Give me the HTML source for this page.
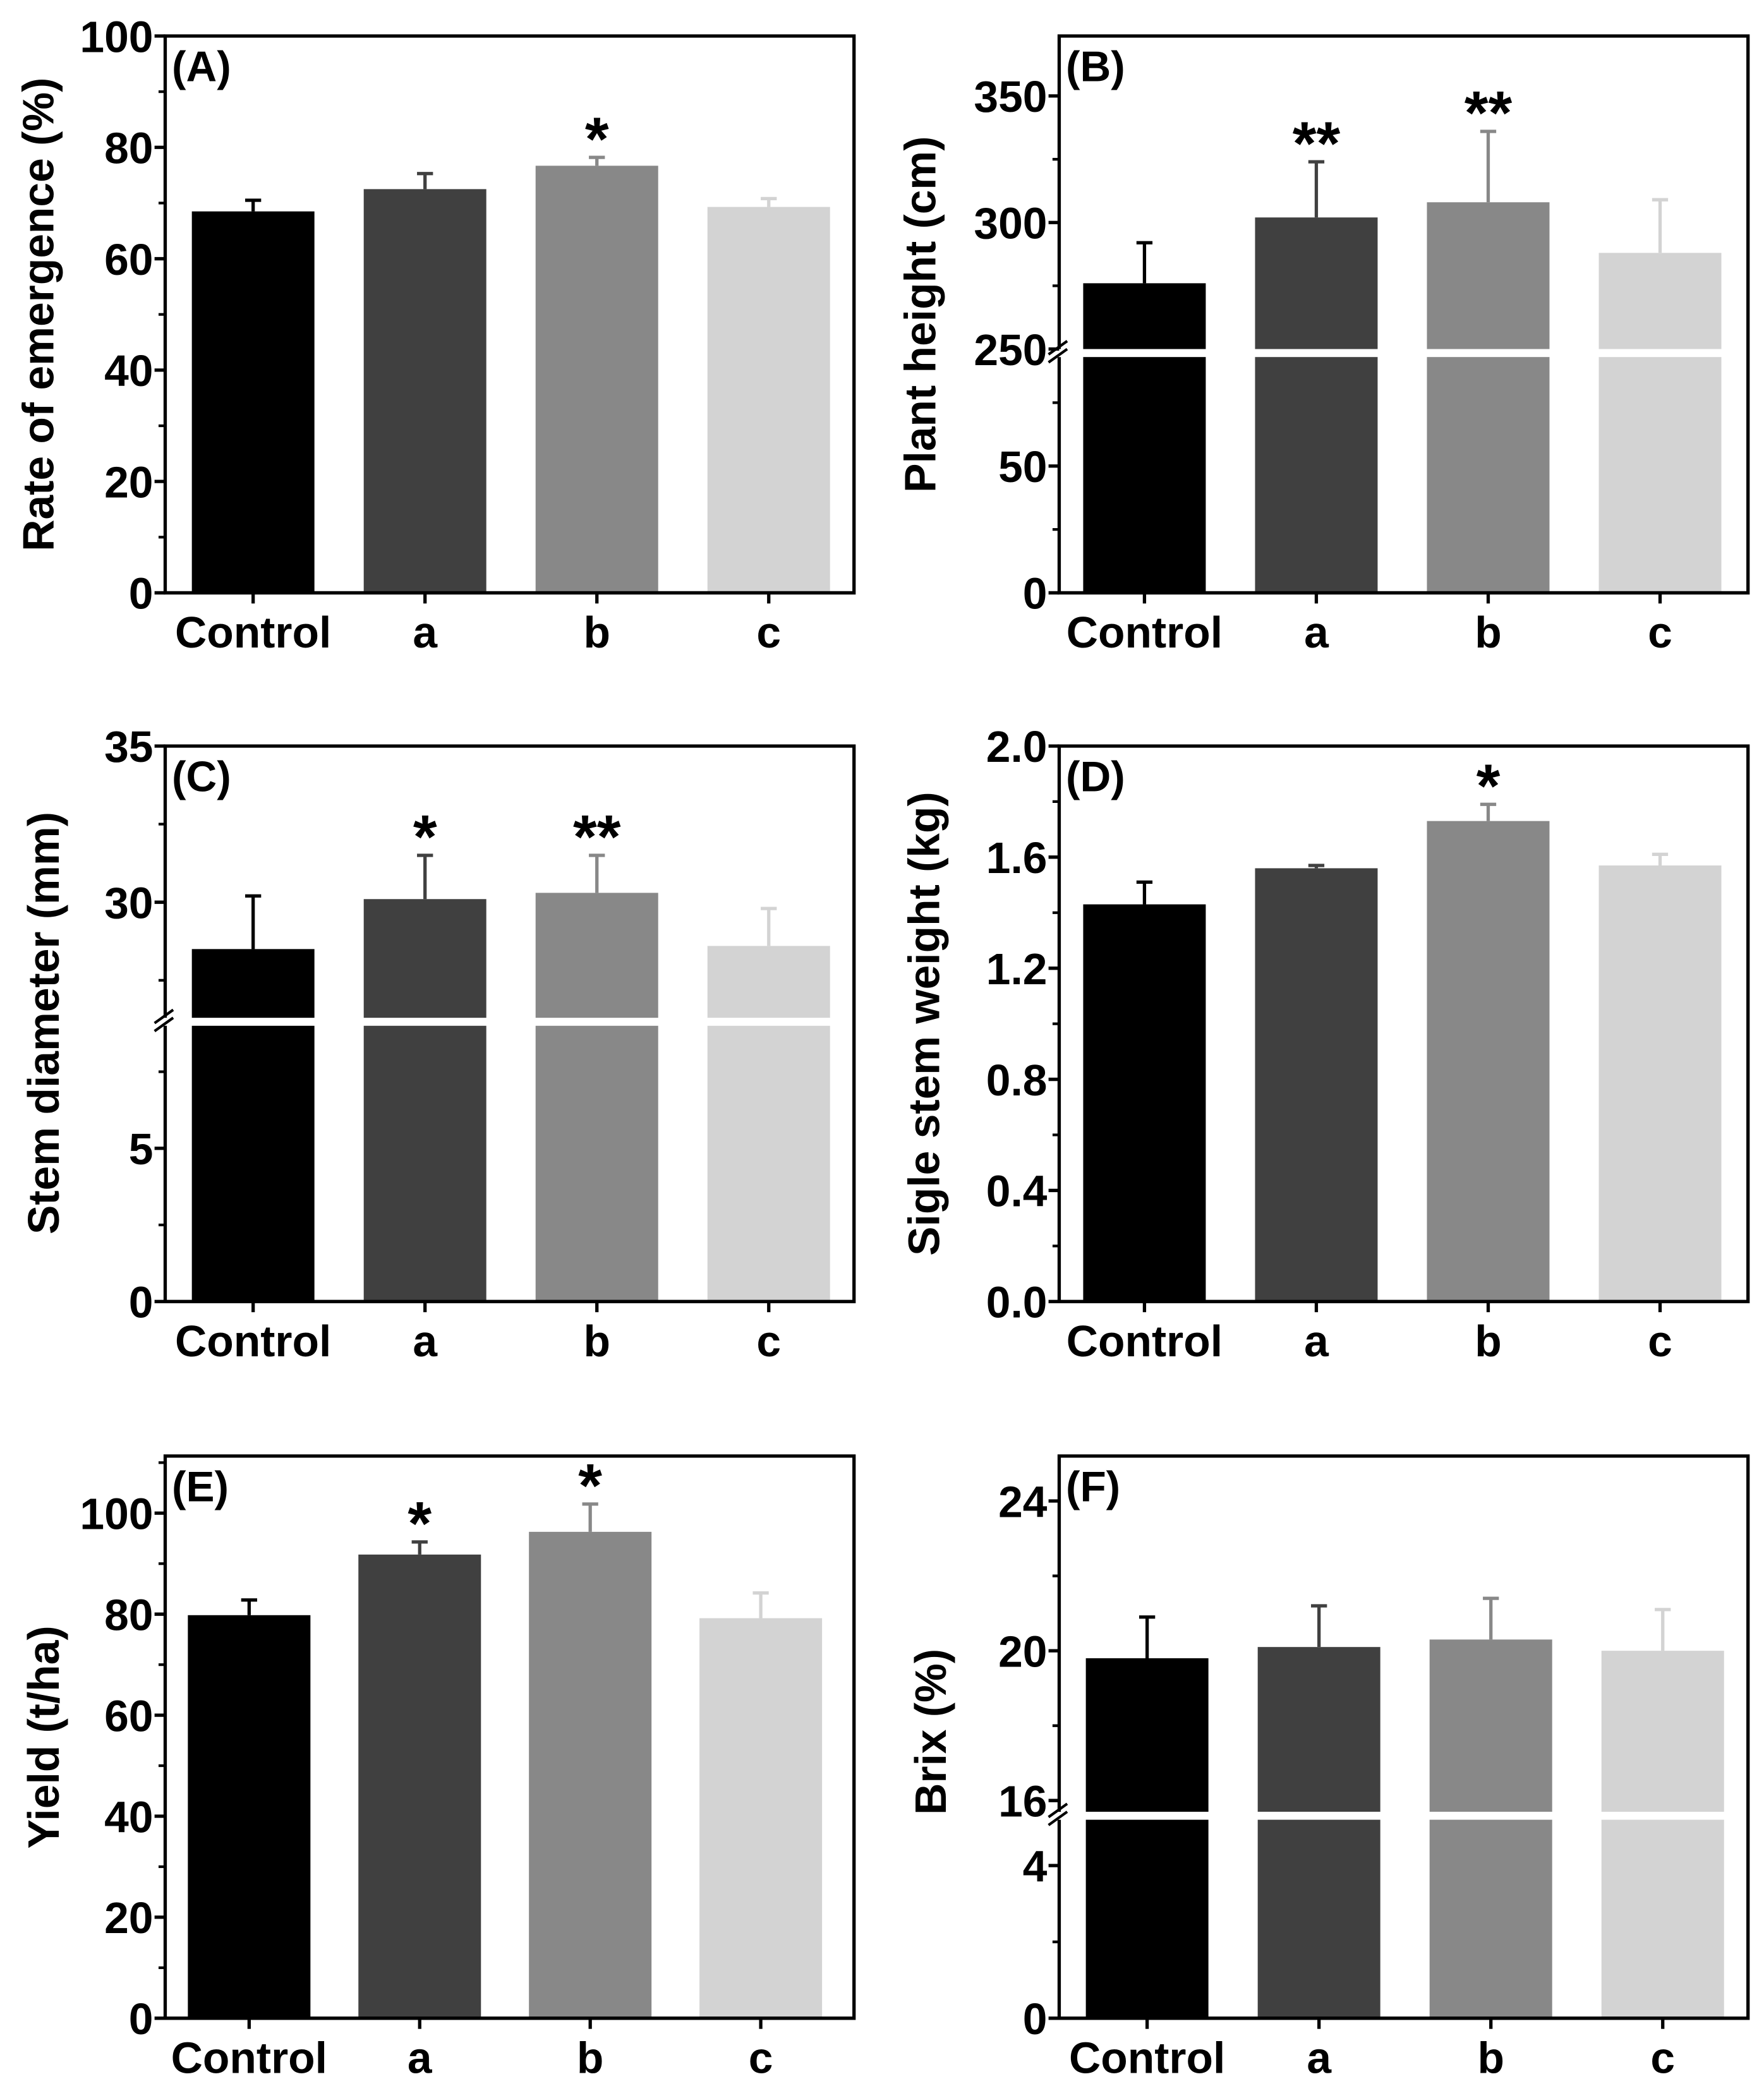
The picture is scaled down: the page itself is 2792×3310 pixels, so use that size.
<!DOCTYPE html>
<html><head><meta charset="utf-8"><style>
html,body{margin:0;padding:0;background:#fff}
svg{display:block}
text{font-family:"Liberation Sans",Arial,sans-serif;font-weight:bold;fill:#000}
.tk{font-size:33px}
.xl{font-size:33px}
.yt{font-size:33px}
.pl{font-size:32px}
.st{font-size:46px}
</style></head><body>
<svg id="fig" width="2792" height="3310" viewBox="0 0 1324 1569.6" xmlns="http://www.w3.org/2000/svg"></svg>
<script>
const categories=["Control","a","b","c"];
const colors=["#000000","#404040","#888888","#d3d3d3"];
const valuesA=[68.5,72.5,76.7,69.3]; const errA=[2.0,2.8,1.5,1.5]; const starsA=["","","*",""];
const ticksA=[0,20,40,60,80,100];
const valuesB=[276,302,308,288]; const errB=[16,22,28,21]; const starsB=["","**","**",""];
const ticksB=[0,50,250,300,350];
const valuesC=[28.5,30.1,30.3,28.6]; const errC=[1.7,1.4,1.2,1.2]; const starsC=["","*","**",""];
const ticksC=[0,5,30,35];
const valuesD=[1.43,1.56,1.73,1.57]; const errD=[0.08,0.01,0.06,0.04]; const starsD=["","","*",""];
const ticksD=[0,0.4,0.8,1.2,1.6,2.0];
const valuesE=[79.8,91.8,96.3,79.2]; const errE=[3,2.5,5.5,5]; const starsE=["","*","*",""];
const ticksE=[0,20,40,60,80,100];
const valuesF=[19.8,20.1,20.3,20.0]; const errF=[1.1,1.1,1.1,1.1]; const starsF=["","","",""];
const ticksF=[0,4,16,20,24];

const NS="http://www.w3.org/2000/svg";
const svg=document.getElementById('fig');
function mk(tag,attrs,parent){const e=document.createElementNS(NS,tag);for(const k in attrs)e.setAttribute(k,attrs[k]);(parent||svg).appendChild(e);return e;}

function panel(o){
  const g=mk('g',{});
  
  
  const L=o.left,R=o.left+517,T=o.top,B=o.bottom;
  const segs=o.segs;
  function y(v){
    for(const s of segs){ if(v>=s[0]&&v<=s[1]) return s[2]+(v-s[0])/(s[1]-s[0])*(s[3]-s[2]); }
    if(segs.length>1 && v>segs[0][1] && v<segs[1][0]) return segs[0][3];
    return v<segs[0][0]?segs[0][2]:segs[segs.length-1][3];
  }
  const bw=92, cx=i=>L+ (o.first) + i*o.step;
  o.values.forEach((v,i)=>{
    const c=cx(i);
    const r=mk('rect',{x:c-bw/2,y:y(v),width:bw,height:B-y(v),fill:colors[i]},g);
    
    
    const ye=y(v+o.err[i]);
    const e=mk('path',{d:`M${c},${y(v)}V${ye}M${c-6},${ye}H${c+6}`,stroke:colors[i],'stroke-width':2.5,fill:'none'},g);
    
    
    if(o.stars[i]){
      const s=mk('text',{x:c,y:ye+2,'text-anchor':'middle',class:'st'},g);s.textContent=o.stars[i];
      
      
    }
    const t=mk('text',{x:c,y:B+41,'text-anchor':'middle',class:'xl'},g);t.textContent=categories[i];
    
    
    mk('line',{x1:c,x2:c,y1:B,y2:B+8,stroke:'#000','stroke-width':2.5},g);
  });
  if(segs.length>1){
    const yb=segs[0][3], yt=segs[1][2];
    mk('rect',{x:L-2,y:yt,width:R-L+4,height:yb-yt,fill:'#fff'},g);
    const br=mk('path',{d:`M${L-8},${yt+4}L${L+6},${yt-6}M${L-8},${yb+4}L${L+6},${yb-6}`,stroke:'#000','stroke-width':2},g);
    
    
  }
  const fr=mk('path',{d:segs.length>1?`M${L},${segs[0][3]}V${B}H${R}V${T}H${L}V${segs[1][2]}`:`M${L},${T}V${B}H${R}V${T}Z`,stroke:'#000','stroke-width':2.5,fill:'none'},g);
  
  
  o.ticks.forEach((tv,k)=>{
    const yy=y(tv);
    mk('line',{x1:L-8,x2:L,y1:yy,y2:yy,stroke:'#000','stroke-width':2.5},g);
    const t=mk('text',{x:L-9,y:yy+12,'text-anchor':'end',class:'tk'},g);
    t.textContent=o.fmt?o.fmt(tv):tv;
    
    
    if(k<o.ticks.length-1){
      const nv=o.ticks[k+1];
      const mv=(tv+nv)/2; const ym=y(mv);
      const sameSeg=segs.some(s=>tv>=s[0]&&nv<=s[1]);
      if(sameSeg) mk('line',{x1:L-5,x2:L,y1:ym,y2:ym,stroke:'#000','stroke-width':2},g);
    }
  });
  (o.extraMinor||[]).forEach(mv=>{const ym=y(mv);mk('line',{x1:L-5,x2:L,y1:ym,y2:ym,stroke:'#000','stroke-width':2},g);});
  const pl=mk('text',{x:L+5,y:T+34,class:'pl'},g);pl.textContent='('+o.id+')';
  
  
  const cy=o.titleY||(T+B)/2;
  const yt=mk('text',{x:0,y:0,'text-anchor':'middle',class:'yt',transform:`translate(${o.titleX},${cy}) rotate(-90)`},g);
  yt.textContent=o.title;
  
  
}

panel({id:'A',left:124,top:27,bottom:445,first:66,step:129,values:valuesA,err:errA,stars:starsA,ticks:ticksA,
  segs:[[0,100,445,27]],title:'Rate of emergence (%)',titleX:40});
panel({id:'B',left:795,top:27,bottom:445,first:64,step:129,values:valuesB,err:errB,stars:starsB,ticks:ticksB,
  segs:[[0,93,445,268],[250,373.7,262,27]],extraMinor:[75,325],title:'Plant height (cm)',titleX:702});
panel({id:'C',left:124,top:560,bottom:977,first:66,step:129,values:valuesC,err:errC,stars:starsC,ticks:ticksC,
  segs:[[0,9,977,770],[26.3,35,764,560]],extraMinor:[7.5,27.5],title:'Stem diameter (mm)',titleX:44,titleY:768});
panel({id:'D',left:795,top:560,bottom:977,first:64,step:129,values:valuesD,err:errD,stars:starsD,ticks:ticksD,
  segs:[[0,2,977,560]],fmt:v=>v.toFixed(1),title:'Sigle stem weight  (kg)',titleX:705});
panel({id:'E',left:124,top:1093,bottom:1515,first:63,step:128,values:valuesE,err:errE,stars:starsE,ticks:ticksE,
  segs:[[0,111.3,1515,1093]],extraMinor:[110],title:'Yield (t/ha)',titleX:44});
panel({id:'F',left:795,top:1093,bottom:1515,first:66,step:129,values:valuesF,err:errF,stars:starsF,ticks:ticksF,
  segs:[[0,5.2,1515,1366],[15.7,25.2,1360,1093]],extraMinor:[2,18,22],title:'Brix (%)',titleX:710,titleY:1300});
</script>
</body></html>
